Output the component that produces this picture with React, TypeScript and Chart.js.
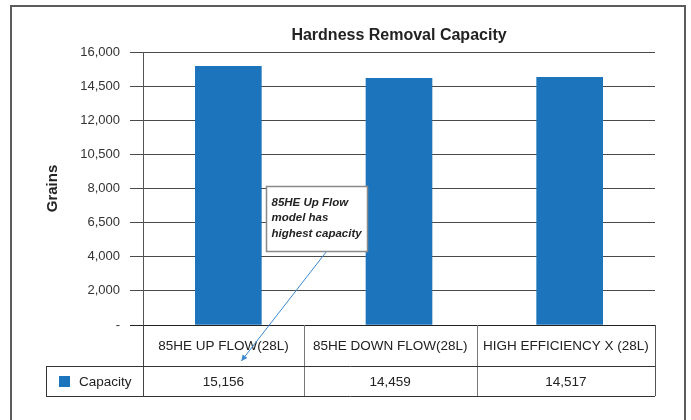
import React, { useEffect, useRef } from 'react';
import { Chart, registerables } from 'chart.js';

Chart.register(...registerables);

const TITLE = 'Hardness Removal Capacity';
const Y_TITLE = 'Grains';
const CATEGORIES = ['85HE UP FLOW(28L)', '85HE DOWN FLOW(28L)', 'HIGH EFFICIENCY X (28L)'];
const SERIES_NAME = 'Capacity';
const CAPACITY = [15156, 14459, 14517];
const Y_TICK_LABELS = ['-', '2,000', '4,000', '6,500', '8,000', '10,500', '12,000', '14,500', '16,000'];
const ANNOTATION_LINES = ['85HE Up Flow', 'model has', 'highest capacity'];

const BAR_COLOR = '#1c74bc';
const FONT = '"Liberation Sans", Arial, Helvetica, sans-serif';

const framePlugin = {
  id: 'frame',
  beforeDraw(chart: any) {
    const { ctx } = chart;
    ctx.save();
    ctx.fillStyle = '#ffffff';
    ctx.fillRect(0, 0, chart.width, chart.height);
    ctx.strokeStyle = '#5c5c5c';
    ctx.lineWidth = 2;
    ctx.strokeRect(11, 6, 674, chart.height + 20);
    ctx.restore();
  },
};

const tablePlugin = {
  id: 'dataTable',
  afterDraw(chart: any) {
    const { ctx, chartArea: ca, scales } = chart;
    const xs = scales.x;
    const ys = scales.y;
    const headerTop = ca.bottom;
    const headerBottom = headerTop + 41;
    const dataBottom = headerBottom + 30;
    const legendLeft = 46;
    ctx.save();
    ctx.font = `13.5px ${FONT}`;
    const W = ca.right - ca.left;
    const n = CATEGORIES.length;
    const tw = CATEGORIES.map((c) => ctx.measureText(c).width);
    const sumTw = tw.reduce((a, b) => a + b, 0);
    const pad = (W - sumTw) / n;
    const widths = tw.map((t) => 0.5 * (W / n) + 0.5 * (t + pad));
    const bounds: number[] = [ca.left];
    widths.forEach((w) => bounds.push(bounds[bounds.length - 1] + w));

    const line = (x1: number, y1: number, x2: number, y2: number, color: string) => {
      ctx.beginPath();
      ctx.strokeStyle = color;
      ctx.lineWidth = 1;
      ctx.moveTo(x1, y1);
      ctx.lineTo(x2, y2);
      ctx.stroke();
    };
    const r = (v: number) => Math.round(v) + 0.5;

    // inner dividers
    for (let i = 1; i < n; i++) line(r(bounds[i]), headerTop, r(bounds[i]), dataBottom, '#777777');
    // outer lines
    line(r(ca.left), headerTop, r(ca.left), dataBottom, '#444444');
    line(r(ca.right), headerTop, r(ca.right), dataBottom, '#555555');
    line(legendLeft, r(headerBottom), ca.right, r(headerBottom), '#333333');
    line(legendLeft, r(dataBottom), ca.right, r(dataBottom), '#333333');
    line(r(legendLeft), headerBottom, r(legendLeft), dataBottom, '#333333');

    // texts
    ctx.fillStyle = '#222222';
    ctx.textAlign = 'center';
    ctx.textBaseline = 'middle';
    CATEGORIES.forEach((c, i) => {
      const cx = (bounds[i] + bounds[i + 1]) / 2;
      ctx.fillText(c, cx, (headerTop + headerBottom) / 2 + 1);
      ctx.fillText(CAPACITY[i].toLocaleString('en-US'), cx, (headerBottom + dataBottom) / 2 + 1);
    });
    // legend key
    ctx.fillStyle = BAR_COLOR;
    ctx.fillRect(legendLeft + 13, headerBottom + 10, 11, 11);
    ctx.fillStyle = '#222222';
    ctx.textAlign = 'left';
    ctx.fillText(SERIES_NAME, legendLeft + 33, (headerBottom + dataBottom) / 2 + 1);

    // annotation callout
    const c0 = xs.getPixelForValue(0);
    const bx = Math.round(c0 + 38) + 0.5;
    const by = Math.round(ys.getPixelForValue(8000) - 3) + 0.5;
    const bw = 101;
    const bh = 65;
    // arrow
    const sx = bx + 60;
    const sy = by + bh;
    const ex = c0 + 13;
    const ey = headerBottom - 5;
    ctx.strokeStyle = '#3a88d0';
    ctx.fillStyle = '#3a88d0';
    ctx.lineWidth = 1;
    ctx.beginPath();
    ctx.moveTo(sx, sy);
    ctx.lineTo(ex, ey);
    ctx.stroke();
    const ang = Math.atan2(ey - sy, ex - sx);
    const al = 6;
    const aw = 3;
    ctx.beginPath();
    ctx.moveTo(ex, ey);
    ctx.lineTo(ex - al * Math.cos(ang) + aw * Math.sin(ang), ey - al * Math.sin(ang) - aw * Math.cos(ang));
    ctx.lineTo(ex - al * Math.cos(ang) - aw * Math.sin(ang), ey - al * Math.sin(ang) + aw * Math.cos(ang));
    ctx.closePath();
    ctx.fill();

    ctx.fillStyle = '#ffffff';
    ctx.fillRect(bx, by, bw, bh);
    ctx.strokeStyle = '#8a8a8a';
    ctx.lineWidth = 1.5;
    ctx.strokeRect(bx, by, bw, bh);
    ctx.fillStyle = '#222222';
    ctx.font = `italic bold 11.5px ${FONT}`;
    ctx.textAlign = 'left';
    ctx.textBaseline = 'middle';
    ANNOTATION_LINES.forEach((t, i) => {
      ctx.fillText(t, bx + 5, by + 16 + i * 15.5);
    });
    ctx.restore();
  },
};

export default function App() {
  const ref = useRef<HTMLCanvasElement | null>(null);

  useEffect(() => {
    document.body.style.margin = '0';
    const canvas = ref.current;
    if (!canvas) return;
    const chart = new Chart(canvas, {
      type: 'bar',
      data: {
        labels: CATEGORIES,
        datasets: [
          {
            label: SERIES_NAME,
            data: CAPACITY,
            backgroundColor: BAR_COLOR,
            borderWidth: 0,
            barThickness: 66,
          },
        ],
      },
      options: {
        responsive: false,
        animation: false,
        devicePixelRatio: 1,
        layout: { padding: { left: 0, right: 36, top: 0, bottom: 95 } },
        plugins: {
          legend: { display: false },
          tooltip: { enabled: false },
          title: {
            display: true,
            text: TITLE,
            fullSize: false,
            align: 'center',
            color: '#222222',
            font: { family: FONT, size: 16, weight: 'bold', lineHeight: 1.2 },
            padding: { top: 25.5, bottom: 7.3 },
          },
        },
        scales: {
          x: {
            type: 'category',
            display: false,
          },
          y: {
            min: 0,
            max: 16000,
            ticks: {
              stepSize: 2000,
              color: '#333333',
              padding: 10,
              font: { family: FONT, size: 13 },
              callback: (_v: any, i: number) => Y_TICK_LABELS[i],
            },
            grid: {
              color: (c: any) => (c.tick && c.tick.value === 0 ? '#222222' : '#4a4a4a'),
              lineWidth: 1,
              tickLength: 13,
              drawTicks: true,
            },
            border: { display: true, color: '#555555', width: 1 },
            title: {
              display: true,
              text: Y_TITLE,
              color: '#222222',
              font: { family: FONT, size: 15, weight: 'bold', lineHeight: 1.2 },
              padding: { top: 44, bottom: 0 },
            },
            afterFit: (s: any) => {
              s.width = 143;
            },
          },
        },
      },
      plugins: [framePlugin, tablePlugin],
    });
    return () => chart.destroy();
  }, []);

  return (
    <canvas ref={ref} width={691} height={420} style={{ display: 'block', width: 691, height: 420 }} />
  );
}
